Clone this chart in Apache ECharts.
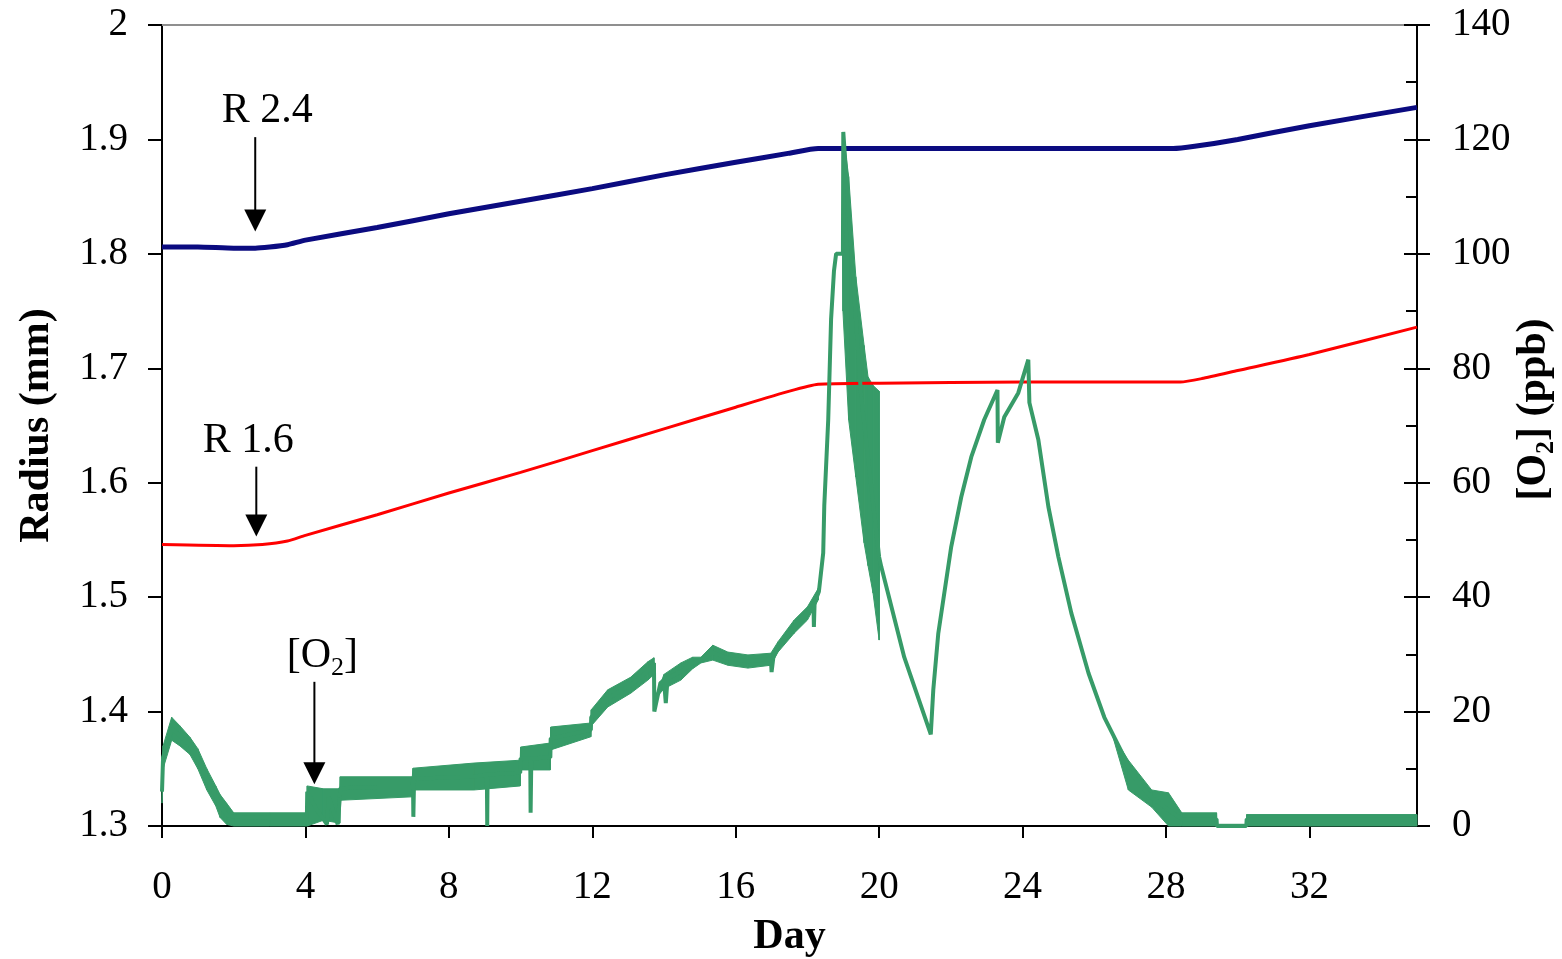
<!DOCTYPE html>
<html>
<head>
<meta charset="utf-8">
<title>Radius and [O2] by day</title>
<script src="https://cdn.jsdelivr.net/npm/echarts@6/dist/echarts.min.js"></script>
<style>
  html, body { margin: 0; padding: 0; background: #fff; overflow: hidden; }
  #chart { width: 1562px; height: 959px; }
</style>
</head>
<body>
<div id="chart"></div>
<script>
// R 2.4 radius (mm)
const blueDays = [0, 1, 2, 2.6, 3, 3.5, 4, 6, 8, 10, 12, 14, 16, 17.5, 18.3, 20, 24, 28.2, 28.8, 30, 32, 35];
const blueRadius = [1.806, 1.806, 1.805, 1.805, 1.806, 1.808, 1.812, 1.823, 1.835, 1.846, 1.857, 1.869, 1.880, 1.888, 1.892, 1.892, 1.892, 1.892, 1.894, 1.900, 1.912, 1.928];

// R 1.6 radius (mm)
const redDays = [0, 2, 2.8, 3.5, 4, 6, 8, 10, 12, 14, 16, 17.5, 18.3, 20, 24, 28.4, 29, 30, 32, 35];
const redRadius = [1.546, 1.545, 1.546, 1.549, 1.554, 1.572, 1.591, 1.609, 1.628, 1.647, 1.666, 1.680, 1.686, 1.687, 1.688, 1.688, 1.691, 1.698, 1.712, 1.736];

// [O2] (ppb) trace
const o2Days = [0, 0.03, 0.27, 0.5, 0.78, 1, 1.25, 1.5, 1.62, 1.8, 2, 3, 4.04, 4.05, 4.3, 4.6, 4.65, 4.9, 4.96, 4.97,
  6, 6.98, 7, 7.01, 7.03, 8, 8.7, 9.06, 9.07, 9.08, 9.99, 10, 10.27, 10.28, 10.3, 10.83, 10.84, 11.96, 11.97, 12.43,
  13.07, 13.55, 13.72, 13.73, 13.9, 14, 14.05, 14.1, 14.47, 14.8, 15.03, 15.36, 15.78, 16.34, 16.98, 17, 17.05, 17.18,
  17.63, 18, 18.17, 18.18, 18.2, 18.32, 18.44, 18.47, 18.58, 18.66, 18.74, 18.8, 18.99, 19, 19.5, 20, 20.06, 20.7,
  21.44, 21.51, 21.65, 22.01, 22.29, 22.57, 22.93, 23.3, 23.31, 23.49, 23.88, 24.16, 24.19, 24.44, 24.72, 25, 25.36,
  25.84, 26.28, 26.84, 27, 27.3, 27.6, 28.07, 28.44, 29.41, 29.42, 30.24, 30.25, 35];
const o2Ppb = [6, 12, 17, 15.8, 14, 11.8, 8.2, 5.2, 3.5, 2, 1.6, 1.4, 1.4, 6, 3, 0.3, 5, 0.3, 5, 6.6,
  6.8, 6.8, 8, 1.6, 8.2, 8.5, 8.6, 9, 0, 9, 9.3, 11.8, 11.8, 2.3, 11.8, 12, 15.3, 16.8, 19, 22.3,
  24.6, 27.1, 28.5, 20, 25, 25.5, 21.5, 25.8, 27, 28.5, 29, 30.3, 29.3, 28.8, 29.2, 26.9, 29.5, 31.3,
  34.8, 37.2, 38.5, 34.8, 39, 41, 47.7, 56, 71, 88.6, 97, 100, 100, 121.3, 75, 47, 45.3, 29.5,
  16, 23.8, 33.7, 48.8, 57.5, 64.5, 71, 76.2, 67, 71.5, 75.7, 81.5, 74, 67.5, 55.8, 47, 37.2,
  26.7, 19, 12, 9.5, 7, 5, 2.8, 1.2, 1.2, 0, 0, 1.2, 1.2];

// noise band of the [O2] trace (lower and upper edge, ppb)
const bandDays = [0, 0.03, 0.27, 0.5, 0.78, 1, 1.25, 1.5, 1.62, 1.8, 2, 3, 4.04, 4.05, 4.5, 4.96, 4.97, 6.98, 7, 8.7,
  9.99, 10, 10.83, 10.84, 11.96, 11.97, 12.43, 13.07, 13.55, 13.72, 13.73, 14, 14.47, 14.8, 15.03, 15.36, 15.78, 16.34,
  16.98, 17.18, 17.63, 18, 18.3, 18.31, 18.98, 18.99, 19.15, 19.35, 19.58, 19.69, 19.83, 20, 20.01, 26.5, 26.95, 27.6,
  28.07, 28.44, 29.41, 29.42, 30.24, 30.25, 35];
const bandLow = [4, 10, 15, 14, 12.5, 10, 6.3, 3.5, 1.5, 0.3, 0, 0, 0, 0, 1, 0.5, 4.5, 5.1, 6.3, 6.3,
  7, 9.8, 9.8, 13.3, 15.6, 17.5, 20.8, 23.2, 25.5, 26.5, 22, 24, 25.5, 27.5, 28.5, 29, 28.1, 27.6,
  28.1, 30.4, 33.7, 36, 39.5, 41, 100, 90, 71, 61, 49.5, 45.5, 40.7, 32.5, 47, 16, 6.3, 3.3,
  0, 0, 0, 0, 0, 0, 0];
const bandHigh = [7, 14, 19, 17.5, 15.5, 13.5, 10, 7, 5.5, 4, 2.3, 2.3, 2.3, 7, 6.5, 6.5, 8.6, 8.6, 10.1, 11,
  11.5, 13.8, 14.5, 17.3, 18, 20.3, 23.8, 26, 28.7, 29.4, 22, 26.5, 28.5, 29.5, 29.5, 31.6, 30.4, 29.9,
  30.2, 32.2, 36, 38.3, 41.5, 41, 100, 121.3, 113.5, 96, 84, 78.5, 77, 76, 47, 16, 11.5, 6.3,
  5.8, 2.3, 2.3, 0.3, 0.3, 2, 2];

// arrow annotations: label, day, arrow top value, arrow tip value, y axis
const notes = [
  { text: 'R 2.4', day: 2.6, from: 1.902, to: 1.8196, axis: 0, dx: 12 },
  { text: 'R 1.6', day: 2.63, from: 1.614, to: 1.553, axis: 0, dx: -8 },
  { text: '[O{sub|2}]', day: 4.25, from: 25.2, to: 7.3, axis: 1, dx: 8 }
];

const colors = {
  blue: '#0b0b80',
  red: '#ff0000',
  green: '#379b68',
  text: '#000000'
};
const font = 'Liberation Serif';
const zip = (xs, ys) => xs.map((x, i) => [x, ys[i]]);

// band pieces: one quad between neighbouring samples
const bandPieces = bandDays.slice(0, -1).map((d, i) => [
  d, bandLow[i], bandHigh[i], bandDays[i + 1], bandLow[i + 1], bandHigh[i + 1]
]);

const chart = echarts.init(document.getElementById('chart'), null, { renderer: 'canvas' });

const tickLabel = { color: colors.text, fontFamily: font, fontSize: 39 };
const axisName = {
  color: colors.text, fontFamily: font, fontSize: 42, fontWeight: 'bold', lineHeight: 50,
  rich: { sub: { fontFamily: font, fontSize: 26, fontWeight: 'bold', lineHeight: 24, verticalAlign: 'bottom' } }
};
const blackLine = { color: colors.text, width: 2 };

const option = {
  animation: false,
  backgroundColor: '#fff',
  grid: { left: 162, right: 145, top: 25, bottom: 133, containLabel: false, outerBoundsMode: 'none' },
  xAxis: [
    {
      type: 'value', position: 'bottom', min: 0, max: 35, interval: 4,
      axisLine: { onZero: false, lineStyle: blackLine },
      axisTick: { length: 12, lineStyle: blackLine },
      axisLabel: Object.assign({ margin: 42, showMaxLabel: false }, tickLabel),
      splitLine: { show: false },
      name: 'Day', nameLocation: 'middle', nameGap: 83, nameTextStyle: axisName
    },
    {
      type: 'value', position: 'top', min: 0, max: 35,
      axisLine: { onZero: false, lineStyle: { color: '#8f8f8f', width: 2 } },
      axisTick: { show: false }, axisLabel: { show: false }, splitLine: { show: false }
    }
  ],
  yAxis: [
    {
      type: 'value', position: 'left', min: 1.3, max: 2, interval: 0.1,
      axisLine: { show: true, onZero: false, lineStyle: blackLine },
      axisTick: { show: true, length: 14, lineStyle: blackLine },
      axisLabel: Object.assign({ margin: 34 }, tickLabel),
      splitLine: { show: false },
      name: 'Radius (mm)', nameLocation: 'middle', nameRotate: 90, nameGap: 100, nameTextStyle: axisName
    },
    {
      type: 'value', position: 'right', min: 0, max: 140, interval: 20,
      axisLine: { show: true, onZero: false, lineStyle: blackLine },
      axisTick: { show: true, length: 13, lineStyle: blackLine },
      axisLabel: Object.assign({ margin: 35 }, tickLabel),
      splitLine: { show: false },
      name: '[O{sub|2}] (ppb)', nameLocation: 'middle', nameRotate: 90, nameGap: 92,
      nameMoveOverlap: false,
      nameTextStyle: Object.assign({ padding: [0, 0, 0, 32] }, axisName)
    },
    {
      type: 'value', position: 'right', min: 0, max: 140, interval: 20,
      axisLine: { show: false, onZero: false },
      axisTick: { show: true, inside: true, length: 13, lineStyle: blackLine },
      minorTick: { show: true, splitNumber: 2, length: 11, lineStyle: blackLine },
      axisLabel: { show: false },
      splitLine: { show: false }
    }
  ],
  series: [
    {
      name: 'R 2.4', type: 'line', xAxisIndex: 0, yAxisIndex: 0,
      data: zip(blueDays, blueRadius), showSymbol: false, smooth: 0.2,
      lineStyle: { color: colors.blue, width: 5 }
    },
    {
      name: 'R 1.6', type: 'line', xAxisIndex: 0, yAxisIndex: 0,
      data: zip(redDays, redRadius), showSymbol: false, smooth: 0.2,
      lineStyle: { color: colors.red, width: 3 }
    },
    {
      name: '[O2] noise', type: 'custom', xAxisIndex: 0, yAxisIndex: 1,
      data: bandPieces,
      encode: { x: [0, 3], y: [1, 2, 4, 5] },
      renderItem: (params, api) => {
        if (api.value(2) <= api.value(1) && api.value(5) <= api.value(4)) return null;
        const pts = [
          api.coord([api.value(0), api.value(1)]),
          api.coord([api.value(0), api.value(2)]),
          api.coord([api.value(3), api.value(5)]),
          api.coord([api.value(3), api.value(4)])
        ];
        return {
          type: 'polygon',
          shape: { points: pts },
          style: { fill: colors.green, stroke: colors.green, lineWidth: 1 }
        };
      }
    },
    {
      name: '[O2]', type: 'line', xAxisIndex: 0, yAxisIndex: 1,
      data: zip(o2Days, o2Ppb), showSymbol: false,
      lineStyle: { color: colors.green, width: 4 }
    }
  ]
};

chart.setOption(option);

// arrows and their labels, placed from data coordinates
const graphics = [];
notes.forEach((n) => {
  const top = chart.convertToPixel({ xAxisIndex: 0, yAxisIndex: n.axis }, [n.day, n.from]);
  const tip = chart.convertToPixel({ xAxisIndex: 0, yAxisIndex: n.axis }, [n.day, n.to]);
  const head = 22;
  graphics.push({
    type: 'line', z: 100,
    shape: { x1: top[0], y1: top[1], x2: tip[0], y2: tip[1] - head + 2 },
    style: { stroke: colors.text, lineWidth: 2 }
  });
  graphics.push({
    type: 'polygon', z: 100,
    shape: { points: [[tip[0] - 11, tip[1] - head], [tip[0] + 11, tip[1] - head], [tip[0], tip[1]]] },
    style: { fill: colors.text }
  });
  graphics.push({
    type: 'text', z: 100,
    x: top[0] + n.dx, y: top[1] - 1,
    style: {
      text: n.text, fill: colors.text, fontFamily: font, fontSize: 42, lineHeight: 50,
      align: 'center', verticalAlign: 'bottom',
      rich: { sub: { fontFamily: font, fontSize: 26, lineHeight: 24, verticalAlign: 'bottom' } }
    }
  });
});
chart.setOption({ graphic: graphics });

window.addEventListener('resize', () => chart.resize());
</script>
</body>
</html>
